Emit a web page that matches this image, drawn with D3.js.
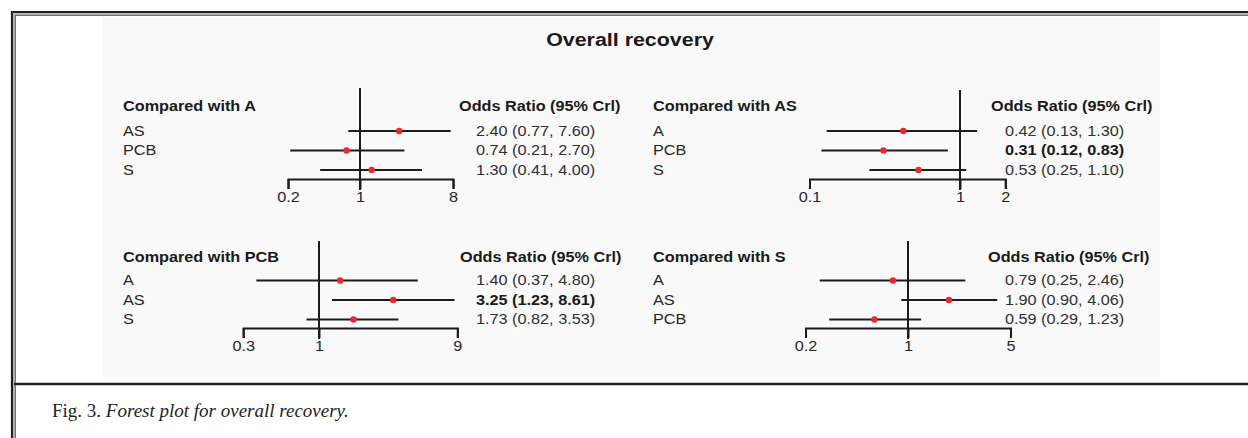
<!DOCTYPE html>
<html>
<head>
<meta charset="utf-8">
<script src="https://cdn.jsdelivr.net/npm/d3@7"></script>
<style>
  html, body { margin: 0; padding: 0; background: #ffffff; }
  svg { display: block; }
</style>
</head>
<body>
<svg id="fig" width="1248" height="438"></svg>
<script>
// Network meta-analysis: odds ratios for overall recovery, one panel per reference treatment
const referenceGroups = ["A", "AS", "PCB", "S"];
const comparisonLabels = [
  ["AS", "PCB", "S"],
  ["A", "PCB", "S"],
  ["A", "AS", "S"],
  ["A", "AS", "PCB"]
];
const oddsRatio = [
  [2.40, 0.74, 1.30],
  [0.42, 0.31, 0.53],
  [1.40, 3.25, 1.73],
  [0.79, 1.90, 0.59]
];
const ciLower = [
  [0.77, 0.21, 0.41],
  [0.13, 0.12, 0.25],
  [0.37, 1.23, 0.82],
  [0.25, 0.90, 0.29]
];
const ciUpper = [
  [7.60, 2.70, 4.00],
  [1.30, 0.83, 1.10],
  [4.80, 8.61, 3.53],
  [2.46, 4.06, 1.23]
];
// credible interval excludes 1 -> shown in bold
const significant = [
  [false, false, false],
  [false, true, false],
  [false, true, false],
  [false, false, false]
];
const tickValues = [
  [0.2, 1, 8],
  [0.1, 1, 2],
  [0.3, 1, 9],
  [0.2, 1, 5]
];
const tickLabels = [
  ["0.2", "1", "8"],
  ["0.1", "1", "2"],
  ["0.3", "1", "9"],
  ["0.2", "1", "5"]
];

const chartTitle = "Overall recovery";
const columnHeader = "Odds Ratio (95% Crl)";

// ---- layout ----
const SANS = "'Liberation Sans', Arial, Helvetica, sans-serif";
const SERIF = "'Liberation Serif', 'Times New Roman', serif";
const FS = 14;              // panel text size
const SX = 1.16;            // horizontal stretch of the embedded figure text
const INK = "#1c1c1c";
const TEXT = "#262626";
const DOT = "#f0262a";

// per-panel geometry: label column, value column, position of OR = 1, px per decade, row centres
const layout = [
  { labelX: 123, headX: 459, valX: 476, oneX: 360, decade: 103,   headY: 106, rows: [131, 150.5, 170], axisY: 179, refTop: 88 },
  { labelX: 653, headX: 991, valX: 1005, oneX: 960, decade: 150.5, headY: 106, rows: [131, 150.5, 170], axisY: 179, refTop: 90 },
  { labelX: 123, headX: 460, valX: 476, oneX: 319, decade: 145,   headY: 257, rows: [280.5, 300, 319.5], axisY: 328, refTop: 241 },
  { labelX: 653, headX: 988, valX: 1005, oneX: 908, decade: 146.6, headY: 257, rows: [280.5, 300, 319.5], axisY: 328, refTop: 241 }
];

const svg = d3.select("#fig");

// ---- page frame ----
const frame = svg.append("g");
frame.append("rect").attr("x", 103).attr("y", 17).attr("width", 1057).attr("height", 361).attr("fill", "#f9f9f9");
// outer double rule (left and top)
frame.append("line").attr("x1", 12).attr("y1", 11).attr("x2", 12).attr("y2", 438).attr("stroke", "#222").attr("stroke-width", 2.2);
frame.append("line").attr("x1", 11).attr("y1", 12).attr("x2", 1248).attr("y2", 12).attr("stroke", "#222").attr("stroke-width", 2.2);
frame.append("line").attr("x1", 13.8).attr("y1", 13.8).attr("x2", 13.8).attr("y2", 438).attr("stroke", "#9a9a9a").attr("stroke-width", 1);
frame.append("line").attr("x1", 13.8).attr("y1", 13.8).attr("x2", 1248).attr("y2", 13.8).attr("stroke", "#9a9a9a").attr("stroke-width", 1);
frame.append("line").attr("x1", 15.2).attr("y1", 15.2).attr("x2", 15.2).attr("y2", 438).attr("stroke", "#333").attr("stroke-width", 1);
frame.append("line").attr("x1", 15.2).attr("y1", 15.2).attr("x2", 1248).attr("y2", 15.2).attr("stroke", "#333").attr("stroke-width", 1);
// rule between figure and caption
frame.append("line").attr("x1", 14).attr("y1", 384).attr("x2", 1248).attr("y2", 384).attr("stroke", "#222").attr("stroke-width", 2.6);

// ---- stretched text helper ----
function stretchedText(g, x, y, str, opts) {
  const o = Object.assign({ size: FS, weight: "normal", anchor: "start", fill: TEXT, sx: SX }, opts || {});
  return g.append("text")
    .attr("transform", `translate(${x},${y}) scale(${o.sx},1)`)
    .attr("dy", "0.35em")
    .attr("text-anchor", o.anchor)
    .attr("font-family", SANS)
    .attr("font-size", o.size)
    .attr("font-weight", o.weight)
    .attr("fill", o.fill)
    .text(str);
}

// ---- title ----
stretchedText(svg, 630, 40, chartTitle, { size: 18, weight: "bold", anchor: "middle", fill: "#1a1a1a", sx: 1.19 });

const fmt = d3.format(".2f");

referenceGroups.forEach((ref, p) => {
  const L = layout[p];
  const ticks = tickValues[p];
  const tmin = d3.min(ticks), tmax = d3.max(ticks);
  const x = d3.scaleLog()
    .domain([tmin, tmax])
    .range([L.oneX + L.decade * Math.log10(tmin), L.oneX + L.decade * Math.log10(tmax)]);

  const g = svg.append("g").attr("class", "panel");

  // headers
  stretchedText(g, L.labelX, L.headY, "Compared with " + ref, { weight: "bold", fill: "#1a1a1a" });
  stretchedText(g, L.headX, L.headY, columnHeader, { weight: "bold", fill: "#1a1a1a" });

  // axis
  const axis = d3.axisBottom(x)
    .tickValues(ticks)
    .tickFormat((d, i) => tickLabels[p][i])
    .tickSizeInner(10)
    .tickSizeOuter(10)
    .tickPadding(3);
  const ax = g.append("g").attr("transform", `translate(0,${L.axisY})`).call(axis);
  ax.select(".domain").attr("stroke", INK).attr("stroke-width", 2).attr("fill", "none");
  ax.selectAll(".tick line").attr("stroke", INK).attr("stroke-width", 2);
  ax.selectAll(".tick text")
    .attr("font-family", SANS)
    .attr("font-size", FS)
    .attr("fill", TEXT)
    .attr("transform", `scale(${SX},1)`);

  // line of no effect
  g.append("line")
    .attr("x1", x(1)).attr("x2", x(1))
    .attr("y1", L.refTop).attr("y2", L.axisY + 11)
    .attr("stroke", INK).attr("stroke-width", 2);

  const rows = comparisonLabels[p].map((lab, i) => ({
    lab, or: oddsRatio[p][i], lo: ciLower[p][i], hi: ciUpper[p][i], sig: significant[p][i], y: L.rows[i]
  }));

  // credible intervals
  g.selectAll("line.ci").data(rows).join("line")
    .attr("class", "ci")
    .attr("x1", d => x(d.lo)).attr("x2", d => x(d.hi))
    .attr("y1", d => d.y).attr("y2", d => d.y)
    .attr("stroke", INK).attr("stroke-width", 2.2);

  // point estimates
  g.selectAll("circle.est").data(rows).join("circle")
    .attr("class", "est")
    .attr("cx", d => x(d.or)).attr("cy", d => d.y)
    .attr("r", 3.2)
    .attr("fill", DOT);

  // row labels and values
  rows.forEach(d => {
    stretchedText(g, L.labelX, d.y, d.lab);
    stretchedText(g, L.valX, d.y, `${fmt(d.or)} (${fmt(d.lo)}, ${fmt(d.hi)})`,
      { weight: d.sig ? "bold" : "normal", fill: d.sig ? "#1a1a1a" : "#303030" });
  });
});

// ---- caption ----
const cap = svg.append("text")
  .attr("x", 52).attr("y", 417)
  .attr("font-family", SERIF)
  .attr("font-size", 19)
  .attr("fill", "#1e1e1e");
cap.append("tspan").text("Fig. 3. ");
cap.append("tspan").attr("font-style", "italic").text("Forest plot for overall recovery.");
</script>
</body>
</html>
